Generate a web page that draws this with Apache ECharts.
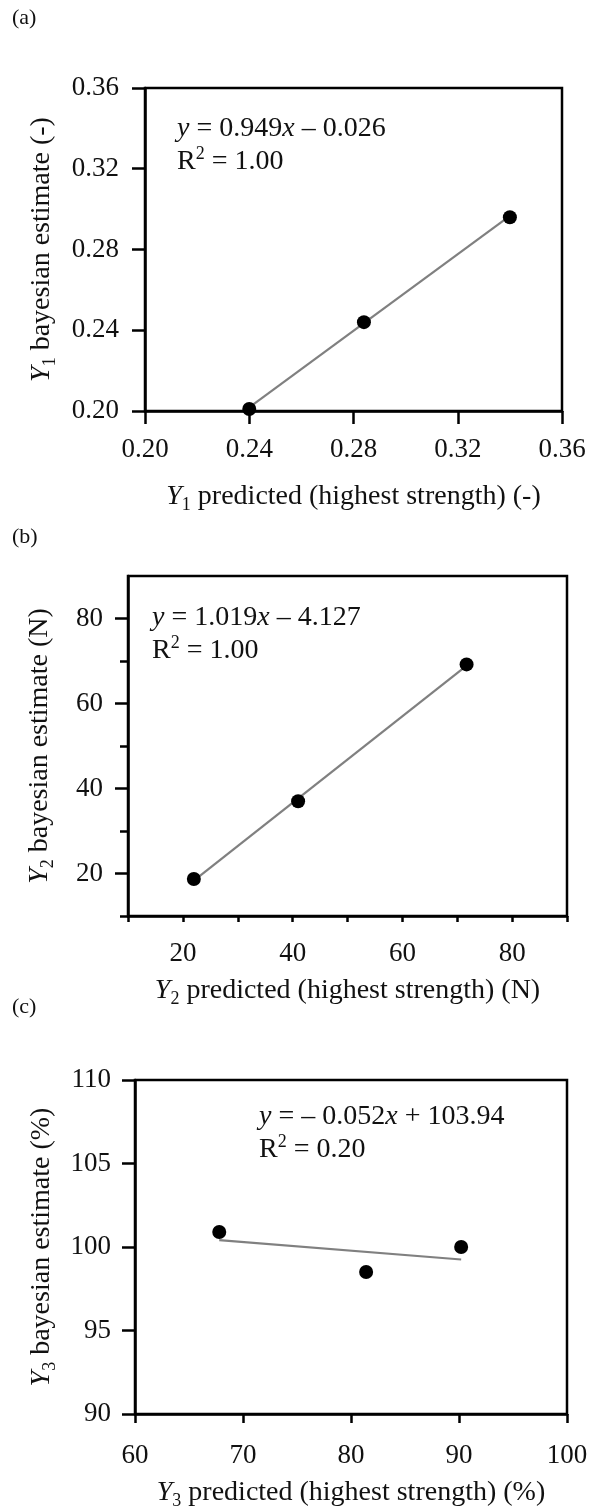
<!DOCTYPE html>
<html>
<head>
<meta charset="utf-8">
<script src="https://cdn.jsdelivr.net/npm/echarts@6/dist/echarts.min.js"></script>
<style>
html,body{margin:0;padding:0;background:#fff}
#chart{width:598px;height:1511px}
</style>
</head>
<body>
<div id="chart"></div>
<script>
// 数据 (a) Y1
var aPredicted = [0.240, 0.284, 0.340];
var aBayes = [0.201, 0.244, 0.296];
var aFitX = [0.240, 0.340];
var aFitY = [0.2018, 0.2967];
var aTicks = [0.20, 0.24, 0.28, 0.32, 0.36];

// 数据 (b) Y2
var bPredicted = [22, 41, 71.7];
var bBayes = [18.7, 37.0, 69.2];
var bFitX = [22, 72];
var bFitY = [18.3, 69.2];
var bLabels = [20, 40, 60, 80];
var bMinorY = [10, 30, 50, 70];

// 数据 (c) Y3
var cPredicted = [67.8, 81.4, 90.2];
var cBayes = [100.9, 98.5, 100.0];
var cFitX = [67.8, 90.2];
var cFitY = [100.41, 99.25];
var cTicksX = [60, 70, 80, 90, 100];
var cTicksY = [90, 95, 100, 105, 110];

var FONT = '"Liberation Serif", "Times New Roman", serif';
var INK = '#111';

function zip(xs, ys) {
	var out = [];
	for (var i = 0; i < xs.length; i++) {
		out.push([xs[i], ys[i]]);
	}
	return out;
}

// 轴标题 (下标)
var nameRich = {
	i: { fontFamily: FONT, fontSize: 28, fontStyle: 'italic', color: INK, lineHeight: 34 },
	s: { fontFamily: FONT, fontSize: 18, color: INK, lineHeight: 17, verticalAlign: 'bottom' }
};
var nameStyle = { fontFamily: FONT, fontSize: 28, color: INK, lineHeight: 34, rich: nameRich };
// 方程 (上标)
var eqRich = {
	i: { fontFamily: FONT, fontSize: 28, fontStyle: 'italic', fill: INK, lineHeight: 33 },
	sup: { fontFamily: FONT, fontSize: 18, fill: INK, lineHeight: 32, verticalAlign: 'top' }
};

function axisLine() {
	return { show: true, onZero: false, lineStyle: { color: '#000', width: 2.5 } };
}
function tick(len, values) {
	var t = { show: true, inside: false, length: len, lineStyle: { color: '#000', width: 2.5 } };
	if (values) t.customValues = values;
	return t;
}
function label(margin, values, fmt) {
	var l = { show: true, margin: margin, fontFamily: FONT, fontSize: 27, color: INK };
	if (values) l.customValues = values;
	if (fmt) l.formatter = fmt;
	return l;
}
function fix2(v) { return Number(v).toFixed(2); }

var grids = [
	{ left: 145, right: 36, top: 88, height: 323 },
	{ left: 128, right: 31, top: 576, height: 340 },
	{ left: 135, right: 31, top: 1080, height: 334 }
];
grids.forEach(function (g) {
	g.show = true;
	g.borderColor = '#000';
	g.borderWidth = 2.5;
	g.backgroundColor = 'transparent';
	g.containLabel = false;
});

var option = {
	animation: false,
	backgroundColor: '#fff',
	grid: grids,
	xAxis: [
		{
			type: 'value', gridIndex: 0, min: 0.20, max: 0.36, interval: 0.04,
			axisLine: axisLine(), axisTick: tick(13, aTicks),
			axisLabel: label(25, aTicks, fix2), splitLine: { show: false },
			name: '{i|Y}{s|1} predicted (highest strength) (-)',
			nameLocation: 'middle', nameGap: 69, nameTextStyle: nameStyle
		},
		{
			type: 'value', gridIndex: 1, min: 10, max: 90, interval: 10,
			axisLine: axisLine(), axisTick: tick(6),
			axisLabel: label(24, bLabels), splitLine: { show: false },
			name: '{i|Y}{s|2} predicted (highest strength) (N)',
			nameLocation: 'middle', nameGap: 58, nameTextStyle: nameStyle
		},
		{
			type: 'value', gridIndex: 2, min: 60, max: 100, interval: 10,
			axisLine: axisLine(), axisTick: tick(9, cTicksX),
			axisLabel: label(28, cTicksX), splitLine: { show: false },
			name: '{i|Y}{s|3} predicted (highest strength) (%)',
			nameLocation: 'middle', nameGap: 62, nameTextStyle: nameStyle
		}
	],
	yAxis: [
		{
			type: 'value', gridIndex: 0, position: 'left', min: 0.20, max: 0.36, interval: 0.04,
			axisLine: axisLine(), axisTick: tick(13, aTicks),
			axisLabel: label(26, aTicks, fix2), splitLine: { show: false },
			name: '{i|Y}{s|1} bayesian estimate (-)',
			nameLocation: 'middle', nameGap: 86, nameRotate: 90, nameTextStyle: nameStyle
		},
		{
			type: 'value', gridIndex: 1, position: 'left', min: 10, max: 90, interval: 10,
			axisLine: axisLine(), axisTick: tick(13, bLabels),
			axisLabel: label(25, bLabels), splitLine: { show: false },
			name: '{i|Y}{s|2} bayesian estimate (N)',
			nameLocation: 'middle', nameGap: 71, nameRotate: 90, nameTextStyle: nameStyle
		},
		{
			// 次刻度
			type: 'value', gridIndex: 1, position: 'left', offset: 0, min: 10, max: 90, interval: 10,
			axisLine: { show: false }, axisTick: tick(8, bMinorY),
			axisLabel: { show: false }, splitLine: { show: false }
		},
		{
			type: 'value', gridIndex: 2, position: 'left', min: 90, max: 110, interval: 5,
			axisLine: axisLine(), axisTick: tick(13, cTicksY),
			axisLabel: label(24, cTicksY), splitLine: { show: false },
			name: '{i|Y}{s|3} bayesian estimate (%)',
			nameLocation: 'middle', nameGap: 76, nameRotate: 90, nameTextStyle: nameStyle
		}
	],
	series: [
		{ type: 'line', xAxisIndex: 0, yAxisIndex: 0, data: zip(aFitX, aFitY), symbol: 'none', lineStyle: { color: '#808080', width: 2.2 }, z: 2 },
		{ type: 'scatter', xAxisIndex: 0, yAxisIndex: 0, data: zip(aPredicted, aBayes), symbolSize: 14, itemStyle: { color: '#000', opacity: 1 }, z: 3 },
		{ type: 'line', xAxisIndex: 1, yAxisIndex: 1, data: zip(bFitX, bFitY), symbol: 'none', lineStyle: { color: '#808080', width: 2.2 }, z: 2 },
		{ type: 'scatter', xAxisIndex: 1, yAxisIndex: 1, data: zip(bPredicted, bBayes), symbolSize: 14, itemStyle: { color: '#000', opacity: 1 }, z: 3 },
		{ type: 'line', xAxisIndex: 2, yAxisIndex: 3, data: zip(cFitX, cFitY), symbol: 'none', lineStyle: { color: '#808080', width: 2.2 }, z: 2 },
		{ type: 'scatter', xAxisIndex: 2, yAxisIndex: 3, data: zip(cPredicted, cBayes), symbolSize: 14, itemStyle: { color: '#000', opacity: 1 }, z: 3 }
	],
	graphic: [
		{ type: 'text', left: 12, top: 7, style: { text: '(a)', font: '22px ' + FONT, fill: INK } },
		{ type: 'text', left: 12, top: 526, style: { text: '(b)', font: '22px ' + FONT, fill: INK } },
		{ type: 'text', left: 12, top: 996, style: { text: '(c)', font: '22px ' + FONT, fill: INK } },
		{ type: 'text', left: 177, top: 112, style: { text: '{i|y} = 0.949{i|x} – 0.026\nR{sup|2} = 1.00', font: '28px ' + FONT, fill: INK, lineHeight: 33, rich: eqRich } },
		{ type: 'text', left: 152, top: 601, style: { text: '{i|y} = 1.019{i|x} – 4.127\nR{sup|2} = 1.00', font: '28px ' + FONT, fill: INK, lineHeight: 33, rich: eqRich } },
		{ type: 'text', left: 259, top: 1100, style: { text: '{i|y} = – 0.052{i|x} + 103.94\nR{sup|2} = 0.20', font: '28px ' + FONT, fill: INK, lineHeight: 33, rich: eqRich } }
	]
};

var chart = echarts.init(document.getElementById('chart'), null, { renderer: 'canvas' });
chart.setOption(option);
</script>
</body>
</html>
